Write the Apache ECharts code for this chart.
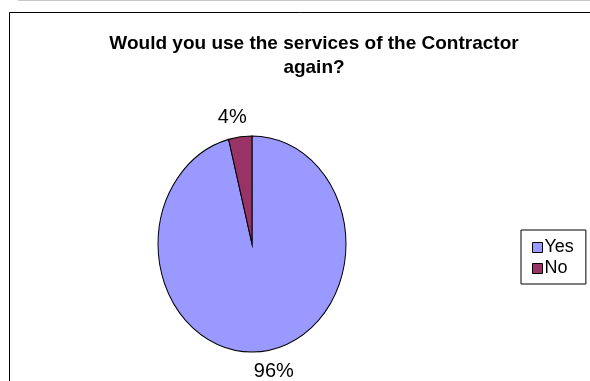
<!DOCTYPE html>
<html>
<head>
<meta charset="utf-8">
<script src="https://cdn.jsdelivr.net/npm/echarts@6/dist/echarts.min.js"></script>
<style>
  html, body { margin: 0; padding: 0; background: #fff; }
  #chart { width: 590px; height: 381px; }
</style>
</head>
<body>
<div id="chart"></div>
<script>
// Survey answers and their shares (percent)
const categories = ['Yes', 'No'];
const values = [96, 4];
const colors = ['#9999FF', '#993366'];
const chartTitle = 'Would you use the services of the Contractor\nagain?';

// Ellipse geometry of the pie
const CX = 252, CY = 244, RX = 94, RY = 108;
const LABEL_GAP = 20;
const LABEL_FONT = '20px "Liberation Sans", Arial, sans-serif';

const total = values.reduce((a, b) => a + b, 0);
const startShares = values.map((v, i) => values.slice(0, i).reduce((a, b) => a + b, 0));

const measureCtx = document.createElement('canvas').getContext('2d');
function textWidth(str, font) {
  measureCtx.font = font;
  return measureCtx.measureText(str).width;
}

function sliceRenderer(seriesIdx) {
  return function (params, api) {
    const v = api.value(0);
    const a0 = -Math.PI / 2 + (startShares[seriesIdx] / total) * Math.PI * 2;
    const a1 = a0 + (v / total) * Math.PI * 2;
    const mid = (a0 + a1) / 2;
    const label = Math.round(v / total * 100) + '%';
    const w = textWidth(label, LABEL_FONT);
    // outside-end label, pushed sideways a little by its own width
    const lx = CX + (RX + LABEL_GAP) * Math.cos(mid) + Math.cos(mid) * w * 1.5;
    const ly = CY + (RY + LABEL_GAP) * Math.sin(mid);
    return {
      type: 'group',
      children: [
        {
          type: 'sector',
          x: CX, y: CY,
          scaleY: RY / RX,
          shape: { cx: 0, cy: 0, r0: 0, r: RX, startAngle: a0, endAngle: a1, clockwise: true },
          style: { fill: colors[seriesIdx], stroke: '#000', lineWidth: 1, strokeNoScale: true }
        },
        {
          type: 'text',
          x: lx, y: ly,
          style: {
            text: label,
            fill: '#000',
            font: LABEL_FONT,
            align: 'center',
            verticalAlign: 'middle'
          }
        }
      ]
    };
  };
}

const chart = echarts.init(document.getElementById('chart'), null, { renderer: 'canvas' });
chart.setOption({
  animation: false,
  backgroundColor: '#fff',
  title: {
    text: chartTitle,
    left: 309,
    top: 27,
    textAlign: 'center',
    textStyle: {
      fontFamily: '"Liberation Sans", Arial, sans-serif',
      fontWeight: 'bold',
      fontSize: 19,
      lineHeight: 24,
      color: '#000'
    }
  },
  legend: {
    orient: 'vertical',
    left: 521,
    top: 230,
    padding: [8, 12, 6, 11],
    itemWidth: 10,
    itemHeight: 10,
    itemGap: 2,
    icon: 'rect',
    borderColor: '#000',
    borderWidth: 1,
    backgroundColor: '#fff',
    itemStyle: { borderColor: '#000', borderWidth: 1 },
    textStyle: {
      fontFamily: '"Liberation Sans", Arial, sans-serif',
      fontSize: 18,
      lineHeight: 19,
      color: '#000',
      padding: [0, 0, 0, -3]
    },
    data: categories
  },
  graphic: [
    { type: 'line', shape: { x1: 18, y1: 0.5, x2: 590, y2: 0.5 }, style: { stroke: '#c8c8c8', lineWidth: 1 }, z: -1 },
    { type: 'rect', shape: { x: 9.5, y: 12.5, width: 600, height: 400 }, style: { fill: 'none', stroke: '#000', lineWidth: 1 }, z: -1 }
  ],
  series: categories.map((name, i) => ({
    type: 'custom',
    name: name,
    coordinateSystem: 'none',
    itemStyle: { color: colors[i] },
    data: [[values[i]]],
    renderItem: sliceRenderer(i)
  }))
});
</script>
</body>
</html>
